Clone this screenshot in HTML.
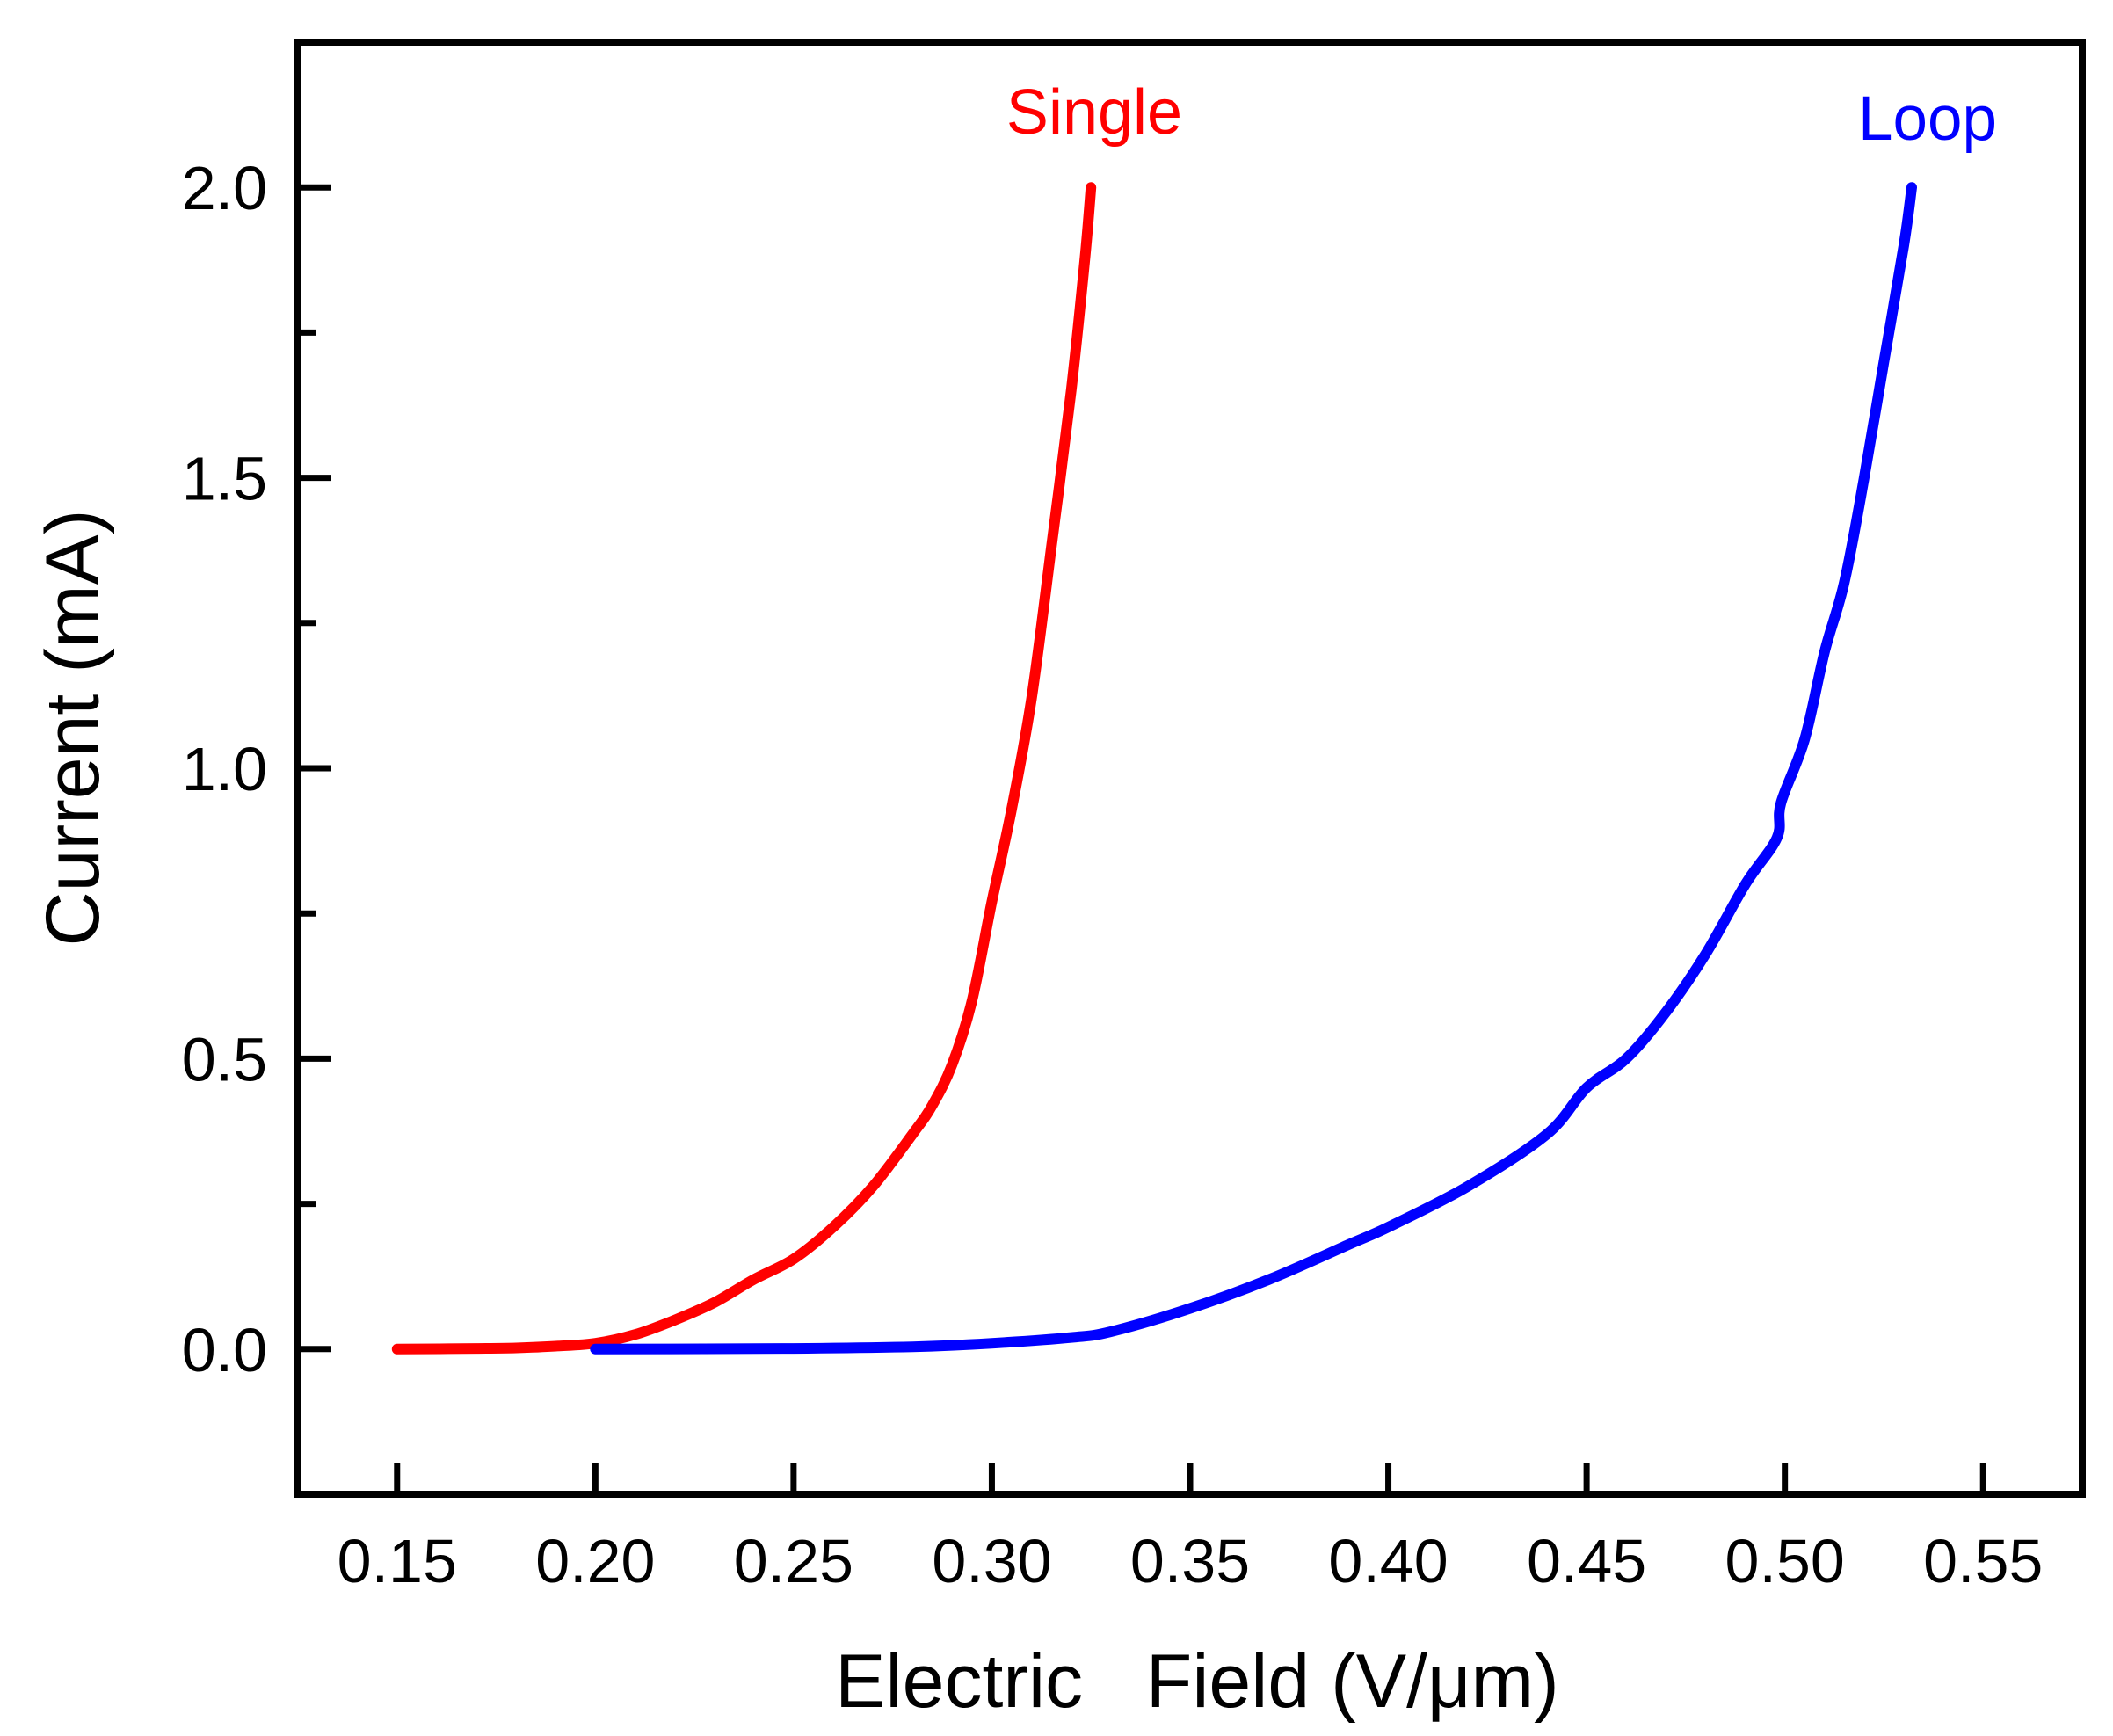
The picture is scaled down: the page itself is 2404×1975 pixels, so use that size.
<!DOCTYPE html>
<html><head><meta charset="utf-8"><style>
html,body{margin:0;padding:0;background:#fff;}
svg{display:block;}
text{font-family:"Liberation Sans",Arial,sans-serif;}
</style></head><body>
<svg id="chart" width="2404" height="1975" viewBox="0 0 2404 1975">
<g id="plot"></g>
<text x="1245" y="152" font-size="72" text-anchor="middle" fill="#ff0000">Single</text>
<text x="2193" y="159" font-size="71" text-anchor="middle" fill="#0000ff">Loop</text>
<text x="1362" y="1942" font-size="86" text-anchor="middle" fill="#000" xml:space="preserve">Electric   Field (V/μm)</text>
<text x="0" y="0" font-size="86" text-anchor="middle" fill="#000" transform="translate(112,828) rotate(-90)">Current (mA)</text>
</svg>
<script>
const xTicks = [0.15,0.20,0.25,0.30,0.35,0.40,0.45,0.50,0.55];
const xTickLabels = ["0.15","0.20","0.25","0.30","0.35","0.40","0.45","0.50","0.55"];
const yTicks = [0.0,0.5,1.0,1.5,2.0];
const yTickLabels = ["0.0","0.5","1.0","1.5","2.0"];
const yMinorTicks = [0.25,0.75,1.25,1.75];
const singleX = [0.15,0.17,0.18,0.19,0.20,0.21,0.22,0.23,0.24,0.25,0.26,0.27,0.28,0.285,0.29,0.295,0.30,0.305,0.31,0.315,0.32,0.3235,0.325];
const singleY = [0,0.001,0.002,0.005,0.01,0.025,0.05,0.08,0.12,0.155,0.21,0.28,0.37,0.42,0.49,0.6,0.77,0.93,1.12,1.38,1.65,1.88,2.0];
const loopX = [0.20,0.25,0.28,0.30,0.32,0.33,0.35,0.37,0.39,0.40,0.42,0.44,0.45,0.46,0.47,0.48,0.49,0.498,0.499,0.505,0.51,0.515,0.52,0.525,0.53,0.532];
const loopY = [0,0.001,0.004,0.01,0.02,0.03,0.07,0.12,0.18,0.21,0.28,0.37,0.45,0.5,0.58,0.68,0.8,0.88,0.94,1.05,1.2,1.32,1.5,1.7,1.9,2.0];

const X0=339,X1=2369,Y0=48,Y1=1700;
const xMin=0.125,xMax=0.575,yMin=-0.25,yMax=2.25;
const sx=v=>X0+(v-xMin)/(xMax-xMin)*(X1-X0);
const sy=v=>Y1-(v-yMin)/(yMax-yMin)*(Y1-Y0);
const NS="http://www.w3.org/2000/svg";
const g=document.getElementById('plot');
function mk(tag,attrs,parent){const e=document.createElementNS(NS,tag);for(const k in attrs)e.setAttribute(k,attrs[k]);(parent||g).appendChild(e);return e;}

xTicks.forEach((v,i)=>{
  const t=mk('line',{x1:sx(v),x2:sx(v),y1:Y1,y2:Y1-36,stroke:'#000','stroke-width':7});
  
  
  const l=mk('text',{x:sx(v),y:1800,'font-size':70,'text-anchor':'middle',fill:'#000'});
  l.textContent=xTickLabels[i];
  
  
});
yTicks.forEach((v,i)=>{
  const t=mk('line',{x1:X0,x2:X0+38,y1:sy(v),y2:sy(v),stroke:'#000','stroke-width':7});
  
  
  const l=mk('text',{x:304,y:sy(v)+25,'font-size':70,'text-anchor':'end',fill:'#000'});
  l.textContent=yTickLabels[i];
  
  
});
yMinorTicks.forEach(v=>{
  const t=mk('line',{x1:X0,x2:X0+21,y1:sy(v),y2:sy(v),stroke:'#000','stroke-width':7});
  
  
});
function series(xs,ys,color,name){
  const P=xs.map((x,i)=>[sx(x),sy(ys[i])]);
  let d='M'+P[0][0].toFixed(1)+','+P[0][1].toFixed(1);
  for(let i=0;i<P.length-1;i++){
    const p0=P[Math.max(0,i-1)],p1=P[i],p2=P[i+1],p3=P[Math.min(P.length-1,i+2)];
    const c1=[p1[0]+(p2[0]-p0[0])/6,p1[1]+(p2[1]-p0[1])/6];
    const c2=[p2[0]-(p3[0]-p1[0])/6,p2[1]-(p3[1]-p1[1])/6];
    d+=' C'+c1[0].toFixed(1)+','+c1[1].toFixed(1)+' '+c2[0].toFixed(1)+','+c2[1].toFixed(1)+' '+p2[0].toFixed(1)+','+p2[1].toFixed(1);
  }
  const p=mk('path',{d:d,fill:'none',stroke:color,'stroke-width':12,'stroke-linecap':'round','stroke-linejoin':'round'});
  
  
}
series(singleX,singleY,'#ff0000','single-series-line');
series(loopX,loopY,'#0000ff','loop-series-line');

const fr=mk('rect',{x:X0,y:Y0,width:X1-X0,height:Y1-Y0,fill:'none',stroke:'#000','stroke-width':8});


</script>
</body></html>
